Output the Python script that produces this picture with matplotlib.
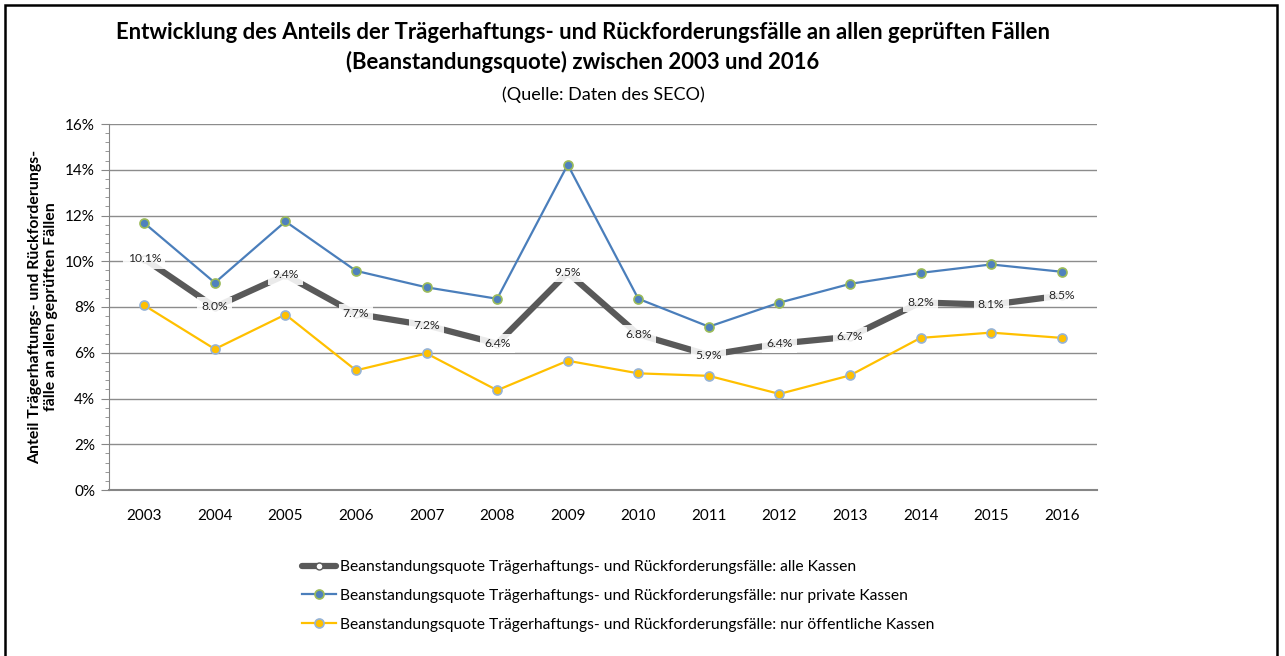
import matplotlib
matplotlib.use("Agg")
import matplotlib.pyplot as plt
import numpy as np
from matplotlib.patches import Rectangle
from matplotlib.ticker import MultipleLocator, PercentFormatter

plt.rcParams["font.family"] = ["Lato", "DejaVu Sans"]

years = ["2003", "2004", "2005", "2006", "2007", "2008", "2009",
         "2010", "2011", "2012", "2013", "2014", "2015", "2016"]
alle = [10.1, 8.0, 9.4, 7.7, 7.2, 6.4, 9.5, 6.8, 5.9, 6.4, 6.7, 8.2, 8.1, 8.5]
privat = [11.67, 9.06, 11.74, 9.58, 8.86, 8.36, 14.22, 8.36, 7.14, 8.19, 9.01, 9.49, 9.86, 9.54]
oeffentlich = [8.07, 6.16, 7.67, 5.23, 5.97, 4.36, 5.65, 5.10, 4.99, 4.20, 5.01, 6.65, 6.88, 6.65]

labels = [
    "Beanstandungsquote Trägerhaftungs- und Rückforderungsfälle: alle Kassen",
    "Beanstandungsquote Trägerhaftungs- und Rückforderungsfälle: nur private Kassen",
    "Beanstandungsquote Trägerhaftungs- und Rückforderungsfälle: nur öffentliche Kassen",
]

fig = plt.figure(figsize=(12.85, 6.56), dpi=100)
ax = fig.add_axes([109 / 1285, 1 - 490 / 656, 988 / 1285, 366 / 656])

x = np.arange(len(years))

ax.plot(x, alle, color="#595959", lw=4.5, marker="o", ms=5,
        mfc="white", mec="#595959", mew=1, zorder=3, label=labels[0],
        solid_capstyle="round")
ax.plot(x, privat, color="#4A7EBB", lw=1.6, marker="o", ms=6.5,
        mfc="#4F81BD", mec="#9BBB59", mew=1.2, zorder=4, label=labels[1])
ax.plot(x, oeffentlich, color="#FFC000", lw=1.6, marker="o", ms=6.5,
        mfc="#FFC000", mec="#95B3D7", mew=1.2, zorder=4, label=labels[2])

for xi, v in zip(x, alle):
    ax.text(xi, v, f"{v:.1f}%", ha="center", va="center", fontsize=8.7,
            color="#262626", zorder=5,
            bbox=dict(boxstyle="square,pad=0.35", fc="white", ec="none", alpha=0.88))

ax.set_xlim(-0.5, len(years) - 0.5)
ax.set_ylim(0, 16)
ax.set_xticks(x)
ax.set_xticklabels(years)
ax.yaxis.set_major_locator(MultipleLocator(2))
ax.yaxis.set_minor_locator(MultipleLocator(0.4))
ax.yaxis.set_major_formatter(PercentFormatter(decimals=0))
ax.grid(axis="y", which="major", color="#8C8C8C", lw=1.0)
ax.set_axisbelow(True)

for side in ["top", "right"]:
    ax.spines[side].set_visible(False)
ax.spines["left"].set_color("#868686")
ax.spines["bottom"].set_color("#868686")
ax.spines["bottom"].set_linewidth(1.5)
ax.tick_params(axis="y", which="major", length=6, color="#868686", labelsize=11, pad=4)
ax.tick_params(axis="y", which="minor", length=3, color="#868686")
ax.tick_params(axis="x", length=0, labelsize=11, pad=14)

ax.set_ylabel("Anteil Trägerhaftungs- und Rückforderungs-\nfälle an allen geprüften Fällen",
              fontsize=11.4, fontweight="bold", labelpad=5, linespacing=1.2)

fig.text(583 / 1285, 1 - 47.5 / 656,
         "Entwicklung des Anteils der Trägerhaftungs- und Rückforderungsfälle an allen geprüften Fällen\n"
         "(Beanstandungsquote) zwischen 2003 und 2016",
         ha="center", va="center", fontsize=15.9, fontweight="bold", linespacing=1.42)
fig.text(603 / 1285, 1 - 95 / 656, "(Quelle: Daten des SECO)",
         ha="center", va="center", fontsize=13)

fig.legend(loc="upper left", bbox_to_anchor=(288 / 1285, 1 - 546 / 656),
           frameon=False, fontsize=11.25, handlelength=2.2, handletextpad=0.2,
           labelspacing=0.95)

fig.add_artist(Rectangle((5 / 1285, -0.02), 1272 / 1285, 1.02 - 5 / 656,
                         transform=fig.transFigure, fill=False, ec="black", lw=1.8))

fig.savefig("out.png", dpi=100)
